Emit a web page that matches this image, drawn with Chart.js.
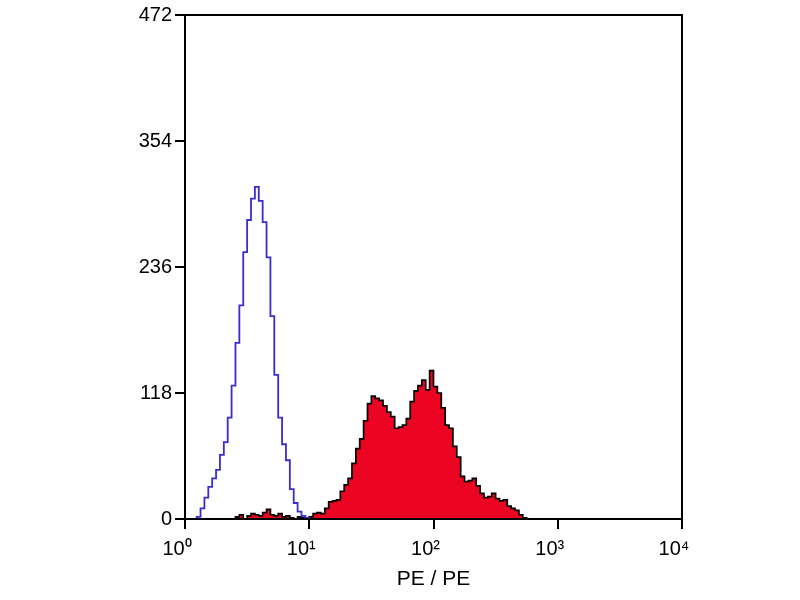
<!DOCTYPE html>
<html>
<head>
<meta charset="utf-8">
<script src="https://cdn.jsdelivr.net/npm/chart.js@4"></script>
<style>
html,body{margin:0;padding:0;background:#fff;}
#wrap{width:800px;height:600px;position:relative;}
</style>
</head>
<body>
<div id="wrap"><canvas id="c" width="800" height="600"></canvas></div>
<script>
// channels: 128 per 4 decades (32 per decade)
const channelsPerDecade = 32;
const yTicks = [0, 118, 236, 354, 472];
const xTickValues = [1, 10, 100, 1000, 10000];
const xTickLabels = ['10\u2070', '10\u00B9', '10\u00B2', '10\u00B3', '10\u2074'];
const xTitle = 'PE / PE';

// isotype control (blue outline), counts per channel starting at channel 0
const blueCounts = [0,0,0,2,10,20,30,38,46,60,72,95,125,165,200,250,280,300,311,298,278,245,190,135,95,70,55,28,15,7,3,1,0];
// stained sample (red filled), counts per channel starting at channel 0
const redCounts = [0,0,0,0,0,0,0,0,0,0,0,0,0,2,4,0,3,5,4,3,6,9,4,3,5,2,3,1,0,2,1,0,
  2,5,6,5,10,16,17,18,26,32,38,52,66,75,92,108,115,113,111,106,100,96,85,86,88,94,110,120,125,130,121,139,
  124,118,104,88,85,68,58,40,35,36,38,31,24,20,21,24,19,17,18,12,10,8,4,1,0];

function toPoints(counts){
  return counts.map((v,i)=>({x: Math.pow(10, i/channelsPerDecade), y: v}));
}

const frame = {
  id:'frame',
  afterDatasetsDraw(chart){
    const a = chart.chartArea, ctx = chart.ctx;
    ctx.save();
    ctx.strokeStyle = '#000';
    ctx.lineWidth = 2;
    ctx.strokeRect(a.left, a.top, a.right-a.left, a.bottom-a.top);
    ctx.restore();
  }
};

new Chart(document.getElementById('c'), {
  type:'line',
  data:{
    datasets:[
      {label:'control', data: toPoints(blueCounts), borderColor:'#3b2bd0', borderWidth:1.8, fill:false, stepped:'before', pointRadius:0},
      {label:'sample', data: toPoints(redCounts), borderColor:'#000', borderWidth:1.7, backgroundColor:'#ec0522', fill:'origin', stepped:'before', pointRadius:0}
    ]
  },
  options:{
    responsive:false,
    animation:false,
    layout:{padding:{left:0, right:118, top:12, bottom:0}},
    plugins:{legend:{display:false}, tooltip:{enabled:false}},
    scales:{
      x:{
        type:'logarithmic', min:1, max:10000,
        afterBuildTicks(s){ s.ticks = xTickValues.map(v=>({value:v})); },
        afterFit(s){ s.height = 81; },
        ticks:{ autoSkip:false, maxRotation:0, color:'#000', padding:8, labelOffset:-8,
          font:{family:'Liberation Sans', size:20},
          callback(v){ const i = xTickValues.indexOf(v); return i>=0 ? xTickLabels[i] : ''; } },
        grid:{drawOnChartArea:false, drawTicks:true, tickLength:10, color:'#000', lineWidth:2},
        border:{display:true, color:'#000', width:2},
        title:{display:true, text:xTitle, color:'#000', font:{family:'Liberation Sans', size:21}, padding:{top:4,bottom:8}}
      },
      y:{
        min:0, max:472,
        afterBuildTicks(s){ s.ticks = yTicks.map(v=>({value:v})); },
        afterFit(s){ s.width = 185; },
        ticks:{ color:'#000', padding:3, font:{family:'Liberation Sans', size:20} },
        grid:{drawOnChartArea:false, drawTicks:true, tickLength:10, color:'#000', lineWidth:2},
        border:{display:true, color:'#000', width:2}
      }
    }
  },
  plugins:[frame]
});
</script>
</body>
</html>
